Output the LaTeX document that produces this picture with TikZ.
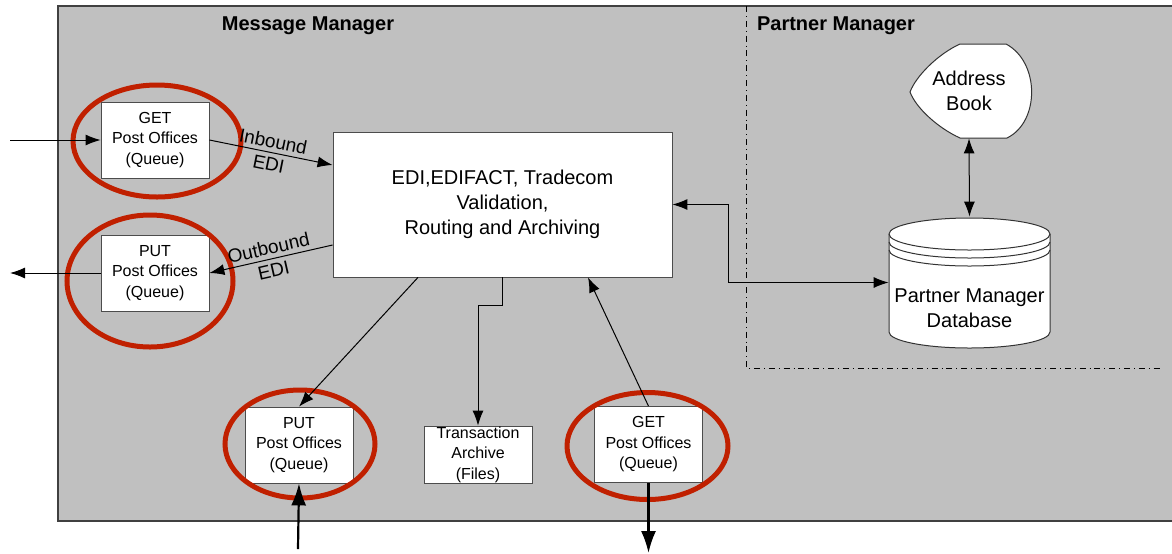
\documentclass[tikz,border=0pt]{standalone}
\usepackage{fontspec}
\setmainfont{Liberation Sans}
\usetikzlibrary{arrows.meta,positioning,calc}
\definecolor{panelgray}{RGB}{192,192,192}
\definecolor{ringred}{RGB}{192,32,0}
\tikzset{pobox/.style={draw=black!70,fill=white,minimum width=54pt,minimum height=38pt,inner sep=0pt,align=center,font=\fontsize{8}{10.25}\selectfont}}
\tikzset{ring/.style={draw=ringred,line width=2.5pt}}
\tikzset{flow/.style={->,line width=0.5pt}}
\tikzset{heavy/.style={-{Latex[length=11pt,width=7.5pt]},line width=1.1pt}}
\tikzset{ttl/.style={font=\bfseries\fontsize{10}{12}\selectfont}}
\tikzset{lbl/.style={font=\fontsize{9.5}{11.5}\selectfont,align=center}}

\begin{document}
\begin{tikzpicture}[x=0.5pt,y=-0.5pt,>={Latex[length=7.5pt,width=5.5pt]}]
    \clip (0,0) rectangle (1172,553);
    \fill[white] (0,0) rectangle (1172,553);
    % panels
    \draw[fill=panelgray,draw=black!75,line width=0.6pt] (58,6) rectangle (1180,521);
    \draw[dash dot,line width=0.4pt] (746,6) -- (746,368) -- (1160,368);
    \node[ttl] (mm) at (308,26) {Message Manager};
    \node[ttl] (pm) at (836,26) {Partner Manager};

    \node[pobox] (getL) at (155,140) {GET\\Post Offices\\(Queue)};
    \node[pobox] (putL) at (155,273) {PUT\\Post Offices\\(Queue)};
    \node[draw=black!70,fill=white,minimum width=169.5pt,minimum height=72.5pt,align=center,font=\fontsize{10}{12.5}\selectfont] (main) at (502.5,204.5) {EDI,EDIFACT, Tradecom\\Validation,\\Routing and Archiving};
    \node[pobox] (putB) at (299,445) {PUT\\Post Offices\\(Queue)};
    \node[pobox,minimum height=28.5pt] (arch) at (478,454.5) {Transaction\\Archive\\(Files)};
    \node[pobox] (getB) at (648.5,444.5) {GET\\Post Offices\\(Queue)};

    % address book and database
    \draw[draw=black!80,fill=white,line width=0.5pt] (960,44) -- (1006,44) .. controls (1040,62) and (1040,122) .. (1007,138) -- (960,138) .. controls (938,128) and (916,108) .. (910,92) .. controls (916,76) and (938,54) .. (960,44) -- cycle;
    \node[minimum width=59pt,minimum height=47pt,inner sep=0pt,align=center,font=\fontsize{10}{12.5}\selectfont] (ab) at (969,91) {Address\\Book};
    \draw[draw=black!80,fill=white,line width=0.5pt] (889,234) -- (889,332) arc[start angle=180,end angle=360,x radius=40.25pt,y radius=8pt] -- (1050,234) arc[start angle=0,end angle=180,x radius=40.25pt,y radius=8pt] -- cycle;
    \foreach \yy in {234,242,250}
        \draw[draw=black!80,line width=0.5pt] (889,\yy) arc[start angle=180,end angle=360,x radius=40.25pt,y radius=8pt];
    \node[minimum width=80.5pt,minimum height=65.5pt,inner sep=0pt] (db) at (969.5,282.5) {};
    \node[align=center,font=\fontsize{10}{12.5}\selectfont] (dbtxt) at (969.5,308) {Partner Manager\\Database};

    % rings
    \draw[ring] (157,141) ellipse [x radius=42pt,y radius=28pt];
    \draw[ring] (150,281) ellipse [x radius=41.5pt,y radius=33pt];
    \draw[ring] (300,444) ellipse [x radius=37.5pt,y radius=27pt];
    \draw[ring] (647.5,446) ellipse [x radius=40.25pt,y radius=26.75pt];

    % connectors
    \coordinate (inL) at (10,140);
    \coordinate (outL) at (10,273);
    \coordinate (inB) at (298,549);
    \coordinate (outB) at (648.5,553);
    \draw[flow] (inL) -- (getL);
    \draw[flow] (putL) -- (outL);
    \draw[flow] (getL.east) -- ([yshift=19.75pt]main.west) node[lbl,midway,sloped] {Inbound\\EDI};
    \draw[flow] ([yshift=-20.25pt]main.west) -- (putL.east) node[lbl,midway,sloped] {Outbound\\EDI};
    \draw[flow] ([xshift=-42.25pt]main.south) -- (putB.north);
    \draw[flow] (main.south) -- ++(0,28) -| (arch.north);
    \draw[flow] (getB.north) -- ([xshift=42.75pt]main.south);
    \draw[flow,<->] (main.east) -- ++(56,0) |- (db.west);
    \draw[flow,<->] (ab.south) -- (db.north);
    \draw[heavy] (inB) -- (putB.south);
    \draw[heavy] (getB.south) -- (outB);
\end{tikzpicture}
\end{document}
